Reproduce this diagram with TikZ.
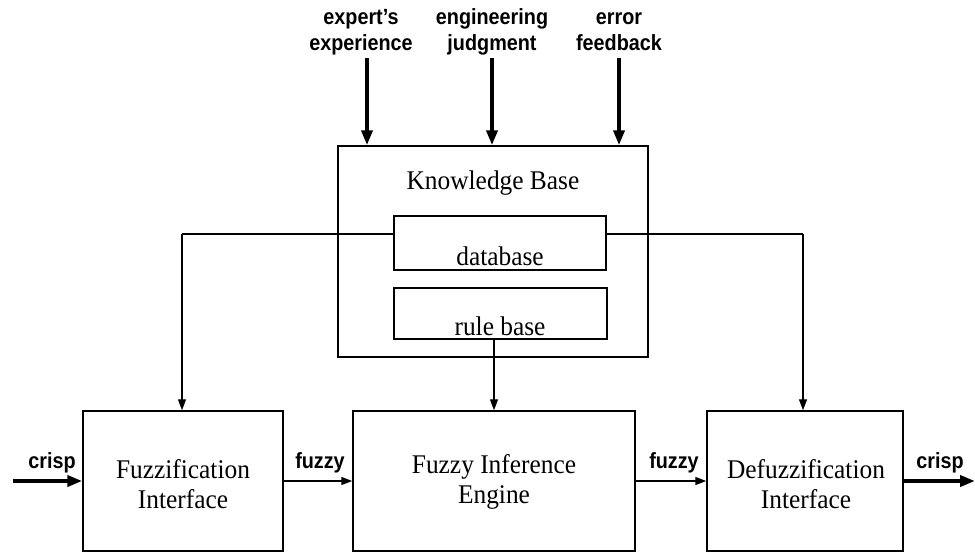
\documentclass[tikz,border=0pt]{standalone}
\usepackage{fontspec}
\setmainfont[FakeStretch=0.94]{Liberation Serif}
\newfontfamily\labfont[FakeStretch=0.9]{Liberation Sans}
\usetikzlibrary{arrows.meta}

\begin{document}
\begin{tikzpicture}[x=1pt,y=1pt,
  blk/.style n args={2}{draw, line width=1.5pt, inner sep=0pt,
    minimum width=#1, minimum height=#2},
  txt/.style={font=\fontsize{27}{30}\selectfont, align=center, inner sep=0pt},
  lab/.style={font=\labfont\bfseries\fontsize{22}{26}\selectfont, align=center, inner sep=0pt},
  thin/.style={line width=1.4pt, -{Triangle[length=11pt,width=8pt]}},
  heavy/.style={line width=4.2pt, -{Triangle[length=15pt,width=11pt]}},
  plain/.style={line width=1.4pt}]
\useasboundingbox (0,0) rectangle (975,-552);

% knowledge base with its two parts
\node[blk={310pt}{211pt}] (kb) at (493,-251.5) {};
\node[txt] (kbt) at (493,-183) {Knowledge Base};
\node[blk={212pt}{54pt}] (db) at (500,-243) {};
\node[txt, anchor=base] (dbt) at (500,-265) {database};
\node[blk={213pt}{51pt}] (rb) at (500.5,-313.5) {};
\node[txt, anchor=base] (rbt) at (500,-335) {rule base};

% processing chain
\node[blk={200pt}{140pt}] (fuz) at (183,-481) {};
\node[blk={282pt}{140pt}] (inf) at (494,-481) {};
\node[blk={196pt}{140pt}] (def) at (805,-481) {};
\node[txt] (fuzt) at (183,-484) {Fuzzification\\Interface};
\node[txt] (inft) at (494,-482) {Fuzzy Inference\\Engine};
\node[txt] (deft) at (806,-484) {Defuzzification\\Interface};

% knowledge sources
\node[lab] (src1) at (361,-32) {expert’s\\experience};
\node[lab] (src2) at (492,-32) {engineering\\judgment};
\node[lab] (src3) at (619,-32) {error\\feedback};
\coordinate (s1) at (367,-58);
\coordinate (s2) at (492,-58);
\coordinate (s3) at (619,-58);
\draw[heavy] (s1) -- (s1 |- kb.north);
\draw[heavy] (s2) -- (s2 |- kb.north);
\draw[heavy] (s3) -- (s3 |- kb.north);

% database feeds both interfaces
\coordinate (dl) at ([yshift=9pt]db.west);
\coordinate (dr) at ([yshift=9pt]db.east);
\draw[plain] (dl) -- (182,-234) coordinate (cl);
\draw[thin] (cl) -- (cl |- fuz.north);
\draw[plain] (dr) -- (803,-234) coordinate (cr);
\draw[thin] (cr) -- (cr |- def.north);

% rule base feeds the engine
\draw[thin] (inf.north |- rb.south) -- (inf.north);

% signal flow
\coordinate (in) at (13,-481);
\coordinate (out) at (975,-481);
\draw[heavy] (in) -- (fuz.west);
\draw[thin] (fuz.east) -- (inf.west);
\draw[thin] (inf.east) -- (def.west);
\draw[heavy] (def.east) -- (out);

\node[lab, anchor=base] (l1) at (52,-468) {crisp};
\node[lab, anchor=base] (l2) at (320,-468) {fuzzy};
\node[lab, anchor=base] (l3) at (674,-468) {fuzzy};
\node[lab, anchor=base] (l4) at (940,-468) {crisp};
\end{tikzpicture}
\end{document}
